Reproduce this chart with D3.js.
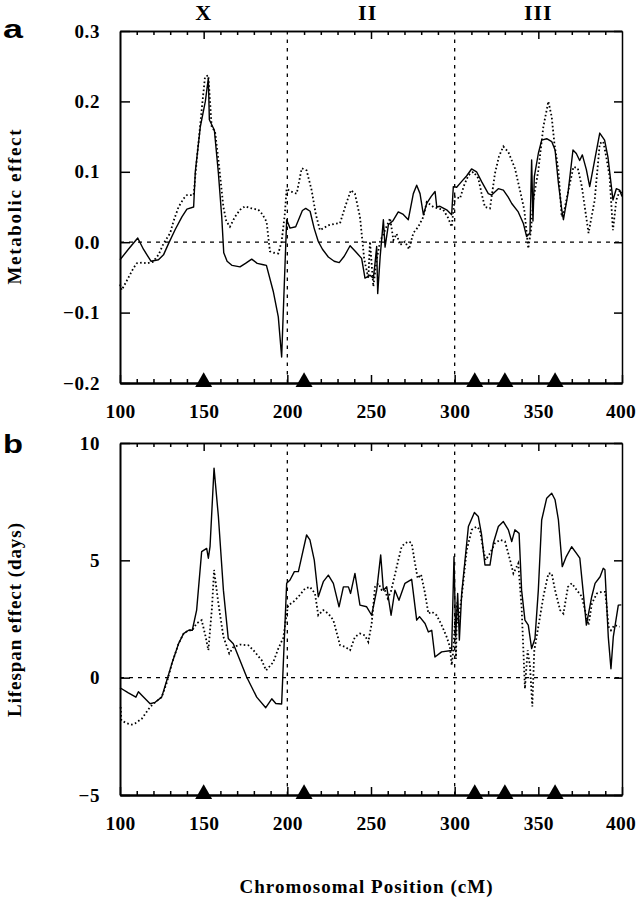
<!DOCTYPE html>
<html><head><meta charset="utf-8">
<script src="https://cdn.jsdelivr.net/npm/d3@7"></script>
<style>
body{margin:0;background:#fff;}
svg{display:block;}
text{font-family:"Liberation Serif","Times New Roman",serif;font-weight:bold;fill:#000;}
</style></head><body>
<svg id="chart" width="637" height="900"></svg>
<script>
// ---------- data ----------
const xDomain = [100, 400];
const xTickValues = [100, 150, 200, 250, 300, 350, 400];
const xTickLabels = ["100", "150", "200", "250", "300", "350", "400"];
const xMinorTicks = [110, 120, 130, 140, 160, 170, 180, 190, 210, 220, 230, 240, 260, 270, 280, 290, 310, 320, 330, 340, 360, 370, 380, 390];
const xMajorInner = [150, 250, 350];
const chromDividers = [200, 300];
const chromLabels = ["X", "II", "III"];
const chromLabelPos = [150, 248, 350];
const markerPos = [150, 210, 312, 330, 360];

const metabolicDomain = [-0.2, 0.3];
const metabolicTicks = [-0.2, -0.1, 0.0, 0.1, 0.2, 0.3];
const metabolicTickLabels = ["\u22120.2", "\u22120.1", "0.0", "0.1", "0.2", "0.3"];
const lifespanDomain = [-5, 10];
const lifespanTicks = [-5, 0, 5, 10];
const lifespanTickLabels = ["\u22125", "0", "5", "10"];

const metabolicSolid = [
[100,-0.025],[105,-0.010],[110.6,0.006],[114,-0.010],[118.5,-0.027],[123,-0.025],[126,-0.018],[129,-0.002],
[133,0.018],[137,0.036],[140,0.047],[144,0.050],[145,0.100],[148,0.164],[151,0.200],[152.8,0.233],[153.4,0.174],
[156.4,0.159],[158.8,0.098],[160.8,0.036],[162,-0.015],[164,-0.027],[167,-0.033],[171.7,-0.035],[175,-0.030],
[178.7,-0.024],[182,-0.030],[185.7,-0.032],[187.5,-0.033],[191.6,-0.070],[194.6,-0.106],[196.6,-0.163],
[199.6,0.032],[201.6,0.020],[205,0.022],[209,0.045],[211,0.048],[213.6,0.044],[216,0.020],[218.5,0.001],
[221,-0.010],[224.5,-0.021],[228,-0.027],[231,-0.029],[234,-0.020],[237.5,-0.005],[241,-0.014],[244.4,-0.023],
[246.4,-0.051],[249.4,-0.047],[251.4,-0.051],[252.4,-0.030],[253.4,-0.006],[254,-0.073],[255.5,-0.020],
[257.4,0.032],[258.4,-0.007],[260.4,0.025],[263,0.030],[266.3,0.043],[269,0.040],[272.3,0.032],[275.3,0.069],
[277.3,0.081],[279.3,0.069],[281.3,0.039],[283.3,0.055],[286,0.065],[288.3,0.072],[289.3,0.050],[291.2,0.051],
[295.2,0.046],[298.2,0.039],[299.2,0.079],[301.2,0.078],[304.1,0.086],[307.1,0.094],[310.1,0.104],[313.1,0.100],
[316.1,0.086],[320.1,0.069],[322.1,0.067],[326.1,0.076],[329.1,0.074],[332,0.064],[334.1,0.055],[338,0.043],
[341,0.027],[343,0.008],[345,0.013],[346,0.117],[346.8,0.030],[347.6,0.093],[350,0.126],[352,0.145],[355,0.147],
[358,0.143],[360,0.131],[362,0.084],[364,0.046],[365,0.032],[367.7,0.069],[370.7,0.131],[372.7,0.126],
[374.7,0.116],[376.3,0.124],[378.7,0.103],[380.7,0.079],[383.7,0.117],[386.7,0.155],[389.6,0.145],[391.6,0.121],
[394.6,0.060],[396.6,0.076],[398.6,0.074],[400,0.065]
];
const metabolicDotted = [
[100,-0.060],[101,-0.068],[104,-0.055],[108,-0.037],[110,-0.030],[113,-0.029],[116,-0.030],[119.6,-0.028],
[123,-0.018],[126,-0.002],[130,0.013],[132,0.030],[135,0.050],[138,0.062],[140,0.067],[144,0.067],[146,0.120],
[148.4,0.178],[150.8,0.235],[152.8,0.237],[154.8,0.164],[156.8,0.157],[158.8,0.117],[161.8,0.050],[163.5,0.030],
[165.7,0.022],[168.7,0.036],[171.7,0.046],[174.7,0.051],[178.7,0.048],[182.7,0.046],[185,0.040],[187.6,0.029],
[189.6,-0.013],[192,-0.015],[194.6,-0.016],[196.6,0.001],[198.5,0.040],[199.6,0.076],[202,0.072],[205.6,0.069],
[208.6,0.105],[211.5,0.102],[214.5,0.074],[217,0.040],[219.5,0.017],[224.5,0.024],[228,0.026],[231.5,0.027],
[234.5,0.050],[238,0.074],[240.4,0.069],[243.4,0.036],[246,-0.025],[248.4,-0.051],[249.4,0.001],[251.4,-0.063],
[253.4,-0.025],[255.4,0.001],[258,0.015],[261.4,0.034],[263.4,0.003],[265.3,0.012],[267.3,-0.004],[270.3,0.001],
[272.7,-0.010],[275.3,0.013],[278.3,0.022],[281.3,0.036],[283.3,0.057],[287.3,0.050],[290,0.048],[293.2,0.046],
[296,0.035],[298.2,0.022],[300.2,0.065],[303.2,0.062],[305.5,0.080],[308.2,0.095],[311.2,0.100],[314.1,0.091],
[316,0.070],[318.1,0.050],[321.1,0.048],[324.1,0.098],[326.5,0.122],[329.1,0.136],[332.1,0.128],[336,0.105],
[339,0.074],[341.6,0.046],[344,-0.009],[345.6,0.017],[347,0.060],[350,0.102],[353,0.164],[356,0.200],[358,0.178],
[359.6,0.140],[362,0.102],[364,0.036],[365.5,0.045],[368,0.074],[371,0.107],[373.6,0.105],[376,0.079],[378,0.046],
[380,0.013],[383.7,0.060],[386.7,0.140],[388.8,0.143],[390.6,0.121],[392.6,0.093],[394.6,0.017],[396.6,0.060],
[398.8,0.074],[400,0.068]
];
const lifespanSolid = [
[100,-0.43],[105,-0.65],[109.5,-0.83],[111,-0.60],[113,-0.75],[118,-1.11],[121,-1.05],[124.9,-0.83],[128,-0.11],
[131,0.60],[135,1.45],[138,1.88],[141,2.02],[143.2,2.02],[145.8,2.88],[148.8,5.37],[151.8,5.51],[152.8,5.09],
[153.8,5.58],[156.2,8.93],[158.8,6.87],[161.8,3.73],[164.7,1.67],[167.7,1.45],[169.7,1.09],[175.7,0.03],
[181.7,-0.83],[187.1,-1.28],[190.7,-0.90],[193.1,-1.10],[196.6,-1.12],[199.6,4.02],[201.6,4.16],[204.2,4.52],
[206.6,4.52],[208.6,5.16],[211.5,6.08],[213.5,5.87],[216.1,5.01],[218.5,3.45],[221.5,4.09],[224.5,4.37],
[227.5,4.02],[230.9,3.02],[233.5,3.87],[236.5,3.87],[237.8,3.59],[240.4,4.44],[243.4,3.09],[247.4,3.02],
[250.4,2.66],[253.4,3.73],[255.8,5.23],[257.4,3.73],[259.4,3.87],[262,2.66],[264.3,3.73],[266.7,3.30],
[270.3,4.02],[274.3,4.19],[277.3,2.45],[279,2.60],[282.3,2.31],[284.3,1.95],[286.3,2.02],[288.2,0.88],
[292.2,1.10],[298.2,1.16],[299.6,5.16],[300.6,1.74],[301.8,3.59],[302.8,1.60],[304.2,3.59],[306.2,5.01],
[308.2,6.44],[311.8,7.04],[314.1,6.87],[316.1,6.08],[318.1,4.80],[321.1,4.80],[323.1,5.73],[326.1,6.44],
[329.1,6.65],[332.1,6.30],[334.1,5.80],[336,6.30],[338.5,6.15],[340,3.73],[342,2.45],[344,2.24],[345,1.74],
[346,1.24],[348,1.67],[350,3.73],[352,6.72],[355,7.65],[358,7.86],[360,7.58],[362,6.72],[364.3,4.73],
[366.7,5.16],[369.9,5.58],[372.8,5.30],[374.8,5.09],[376.7,3.73],[378.7,2.24],[381.9,3.45],[383.9,4.02],
[386.9,4.30],[388.8,4.66],[389.8,4.60],[391.8,1.74],[393.4,0.38],[394.8,1.74],[397.8,3.09],[399.6,3.10]
];
const lifespanDotted = [
[100.4,-1.25],[100.8,-1.82],[104,-1.94],[107,-2.00],[109,-1.95],[113,-1.75],[118,-1.25],[121,-1.05],[124.9,-0.83],
[128,-0.20],[131,0.60],[135,1.45],[138,1.88],[141,2.02],[143.2,2.02],[145.8,2.31],[148.8,2.45],[151,1.80],
[152.8,1.17],[155,3.00],[156.2,4.59],[158.8,3.16],[161.8,1.74],[165.3,1.03],[167.7,1.30],[171.7,1.41],
[176.7,1.38],[179.7,1.17],[184.7,0.74],[187.3,0.31],[191.6,0.66],[194.6,1.24],[197.6,1.70],[199.6,2.73],
[200.6,3.09],[203.6,3.23],[206.6,3.45],[210.6,3.80],[213.5,3.87],[216.5,3.59],[218.5,2.66],[221.5,2.88],
[224.5,2.73],[227.5,2.45],[231.5,1.38],[234.5,1.31],[237.5,1.17],[240.4,1.74],[243.4,1.88],[246.4,1.80],
[248.4,1.52],[250.4,2.31],[252.4,3.87],[254.4,4.02],[256.4,3.73],[258.4,3.70],[260,3.38],[262,3.70],[264,4.30],
[266.3,5.01],[268.3,5.58],[270.3,5.73],[272.7,5.80],[274.3,5.73],[276.3,4.87],[277.9,4.23],[279.9,4.40],
[282.3,3.59],[284.3,2.73],[286.3,2.81],[289.2,2.66],[292.2,2.24],[295.2,1.74],[297.2,1.31],[298.2,0.53],
[299.2,1.17],[300.2,2.50],[300.8,0.80],[301.4,3.20],[302,2.31],[304.2,3.45],[307.2,5.44],[310.2,6.30],
[313.1,6.44],[315.1,6.30],[317.1,5.44],[318.5,5.01],[321.1,5.30],[324.1,5.73],[327.1,5.87],[330.1,5.80],
[333.1,5.01],[335.1,4.44],[338,4.87],[340,3.02],[342,-0.47],[343.6,1.17],[345,0.50],[346.4,-1.23],[347.6,1.17],
[350,2.17],[353,3.45],[356,4.44],[358,4.44],[360,3.73],[363,2.88],[365,2.73],[367.7,3.87],[370,4.02],[373,3.73],
[376,3.45],[378.4,2.73],[380,2.24],[382,3.16],[385,3.59],[388,3.66],[390,3.66],[392,2.17],[393.4,2.02],
[395.4,2.24],[398.6,2.17]
];

// ---------- drawing ----------
const svg = d3.select("#chart");
const x = d3.scaleLinear().domain(xDomain).range([120, 622]);

function styleAxis(sel, domainW) {
  sel.attr("font-family", null).attr("font-size", null);
  sel.select(".domain").attr("stroke", "#000").attr("stroke-width", domainW);
  sel.selectAll(".tick line").attr("stroke", "#000").attr("stroke-width", 1.5);
}

function drawPanel(cfg) {
  const g = svg.append("g");
  const y = d3.scaleLinear().domain(cfg.domain).range([cfg.bottom, cfg.top]);

  // reference lines
  g.append("line").attr("x1", x(xDomain[0])).attr("x2", x(xDomain[1]))
    .attr("y1", y(0)).attr("y2", y(0))
    .attr("stroke", "#000").attr("stroke-width", 1.2).attr("stroke-dasharray", "4 5");
  g.selectAll(".divider").data(chromDividers).join("line")
    .attr("x1", d => x(d)).attr("x2", d => x(d))
    .attr("y1", cfg.top).attr("y2", cfg.bottom)
    .attr("stroke", "#000").attr("stroke-width", 1.3).attr("stroke-dasharray", "3.5 5");

  const line = d3.line().x(d => x(d[0])).y(d => y(d[1]));
  g.append("path").datum(cfg.dotted).attr("d", line)
    .attr("fill", "none").attr("stroke", "#000").attr("stroke-width", 1.8)
    .attr("stroke-dasharray", "1.6 2.4");
  g.append("path").datum(cfg.solid).attr("d", line)
    .attr("fill", "none").attr("stroke", "#000").attr("stroke-width", 1.4)
    .attr("stroke-linejoin", "round");

  // axes
  const left = g.append("g").attr("transform", "translate(120,0)")
    .call(d3.axisLeft(y).tickValues(cfg.ticks).tickFormat((d, i) => cfg.labels[i])
      .tickSize(-10).tickPadding(20).tickSizeOuter(0));
  styleAxis(left, 2);
  left.selectAll("text").attr("font-size", 19).attr("letter-spacing", 0.6);

  const right = g.append("g").attr("transform", "translate(622,0)")
    .call(d3.axisRight(y).tickValues(cfg.ticks).tickFormat("").tickSize(-8).tickSizeOuter(0));
  styleAxis(right, 1.5);

  const topMinor = g.append("g").attr("transform", `translate(0,${cfg.top})`)
    .call(d3.axisTop(x).tickValues(xMinorTicks).tickFormat("").tickSize(-4).tickSizeOuter(0));
  styleAxis(topMinor, 1.5);
  const topMajor = g.append("g").attr("transform", `translate(0,${cfg.top})`)
    .call(d3.axisTop(x).tickValues(xMajorInner).tickFormat("").tickSize(-8).tickSizeOuter(0));
  styleAxis(topMajor, 1.5);

  const botMinor = g.append("g").attr("transform", `translate(0,${cfg.bottom})`)
    .call(d3.axisBottom(x).tickValues(xMinorTicks).tickFormat("").tickSize(-4).tickSizeOuter(0));
  styleAxis(botMinor, 2);
  const bot = g.append("g").attr("transform", `translate(0,${cfg.bottom})`)
    .call(d3.axisBottom(x).tickValues(xTickValues).tickFormat((d, i) => xTickLabels[i])
      .tickSize(-8).tickPadding(21).tickSizeOuter(0));
  styleAxis(bot, 2);
  bot.selectAll("text").attr("font-size", 19.5).attr("letter-spacing", 0.3);
  bot.selectAll(".tick").filter(d => d === xDomain[1]).select("text").attr("dx", -1.5);

  // markers
  g.selectAll(".marker").data(markerPos).join("path")
    .attr("d", d3.symbol(d3.symbolTriangle, 125))
    .attr("transform", d => `translate(${x(d)},${cfg.bottom - 1})`)
    .attr("fill", "#000");

  // panel letter
  svg.append("text").attr("x", 3).attr("y", cfg.letterY)
    .style("font-family", "'Liberation Sans',Arial,sans-serif")
    .attr("font-size", 26).attr("textLength", 20).attr("lengthAdjust", "spacingAndGlyphs")
    .text(cfg.letter);

  // y title
  svg.append("text").attr("transform", `translate(21,${cfg.titleY}) rotate(-90)`)
    .attr("text-anchor", "middle").attr("font-size", 19)
    .attr("textLength", cfg.titleLen).attr("lengthAdjust", "spacing")
    .text(cfg.title);

  return y;
}

drawPanel({domain: metabolicDomain, top: 31, bottom: 383, ticks: metabolicTicks, labels: metabolicTickLabels,
  solid: metabolicSolid, dotted: metabolicDotted, letter: "a", letterY: 38,
  title: "Metabolic effect", titleY: 207, titleLen: 155});
drawPanel({domain: lifespanDomain, top: 443, bottom: 795, ticks: lifespanTicks, labels: lifespanTickLabels,
  solid: lifespanSolid, dotted: lifespanDotted, letter: "b", letterY: 453,
  title: "Lifespan effect (days)", titleY: 620, titleLen: 194});

// chromosome labels
svg.selectAll(".chrom").data(chromLabels).join("text")
  .attr("x", (d, i) => x(chromLabelPos[i])).attr("y", 20)
  .attr("text-anchor", "middle").attr("font-size", 22).attr("letter-spacing", 1)
  .text(d => d);

// x title
svg.append("text").attr("x", 366).attr("y", 893).attr("text-anchor", "middle")
  .attr("font-size", 19).attr("textLength", 253).attr("lengthAdjust", "spacing")
  .text("Chromosomal Position (cM)");
</script>
</body></html>
